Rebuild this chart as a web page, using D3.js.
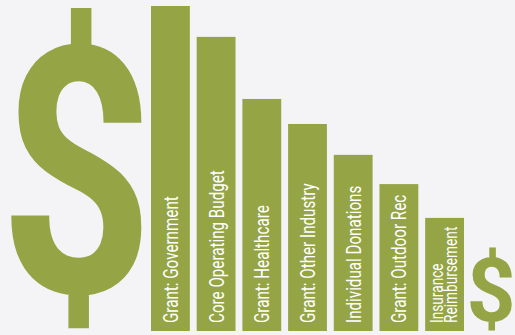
<!doctype html>
<html lang="en">
<head>
  <meta name="viewport" content="width=device-width, initial-scale=1.0">
  <style>
    body { margin: 0; background: #f4f4f6; }
    svg { display: block; }
  </style>
</head>
<body>
  <script src="https://d3js.org/d3.v7.min.js" charset="utf-8"></script>
  <div id="chart"></div>
  <script>
    // Funding sources (relative size)
    var categories = ["Grant: Government", "Core Operating Budget", "Grant: Healthcare",
                      "Grant: Other Industry", "Individual Donations", "Grant: Outdoor Rec",
                      "Insurance Reimbursement"];
    var values = [100, 90.5, 71.4, 63.7, 54.2, 45.2, 34.8];
    // line breaks for labels that need two lines
    var labelLines = [["Grant: Government"], ["Core Operating Budget"], ["Grant: Healthcare"],
                      ["Grant: Other Industry"], ["Individual Donations"], ["Grant: Outdoor Rec"],
                      ["Insurance", "Reimbursement"]];

    var width = 515, height = 335;
    var green = "#95a546";
    var font = "Roboto, 'Noto Sans', sans-serif";

    var svg = d3.select("#chart").append("svg")
                .attr("width", width)
                .attr("height", height);

    var x = d3.scaleBand().domain(categories).range([151, 464]).paddingInner(0.15).paddingOuter(0);
    var y = d3.scaleLinear().domain([0, 100]).range([331, 6]);

    // bars
    svg.append("g").selectAll("rect").data(categories).enter()
      .append("rect")
      .attr("x", function(d) { return x(d); })
      .attr("y", function(d, i) { return y(values[i]); })
      .attr("width", x.bandwidth())
      .attr("height", function(d, i) { return y(0) - y(values[i]); })
      .attr("fill", green);

    // rotated labels, condensed a bit to look like the narrow face of the original
    var squeeze = 0.76;
    var labels = svg.append("g").selectAll("text").data(categories).enter()
      .append("text")
      .attr("transform", function(d, i) {
        var n = labelLines[i].length;
        var cx = x(d) + x.bandwidth() / 2 + (n == 1 ? 7.5 : -1.5);
        return "translate(" + cx + ",323) rotate(-90) scale(" + squeeze + ",1)";
      })
      .attr("fill", "#ffffff")
      .style("font-family", font)
      .style("font-size", function(d, i) { return labelLines[i].length == 1 ? "20px" : "18px"; });
    labels.each(function(d, i) {
      var t = d3.select(this);
      labelLines[i].forEach(function(line, j) {
        t.append("tspan").attr("x", 0).attr("y", j * 14).text(line);
      });
    });

    // big dollar signs, fitted to the box they take in the layout
    var ctx = document.createElement("canvas").getContext("2d");
    function dollar(x0, y0, x1, y1) {
      ctx.font = "700 100px Roboto";
      var m = ctx.measureText("$");
      var w = m.actualBoundingBoxLeft + m.actualBoundingBoxRight;
      var h = m.actualBoundingBoxAscent + m.actualBoundingBoxDescent;
      var sx = (x1 - x0) / w, sy = (y1 - y0) / h;
      svg.append("text")
        .attr("transform", "translate(" + (x0 + m.actualBoundingBoxLeft * sx) + "," +
              (y0 + m.actualBoundingBoxAscent * sy) + ") scale(" + sx + "," + sy + ")")
        .attr("fill", green)
        .style("font-family", "Roboto")
        .style("font-weight", 700)
        .style("font-size", "100px")
        .text("$");
    }
    dollar(10, 6, 142, 330);
    dollar(470, 247, 512, 331);
  </script>
</body>
</html>
